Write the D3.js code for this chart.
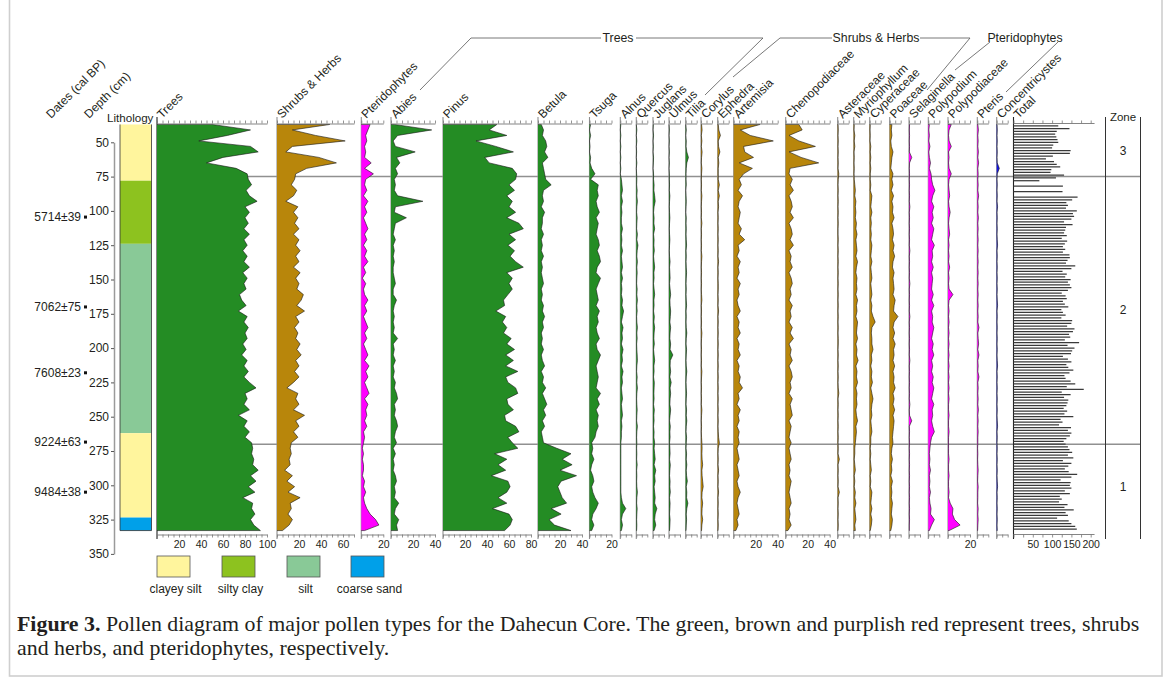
<!DOCTYPE html>
<html><head><meta charset="utf-8">
<script src="https://cdn.jsdelivr.net/npm/d3@7"></script>
<style>
body{margin:0;background:#fff}
svg{display:block}
text{font-family:"Liberation Sans",Arial,sans-serif;fill:#231f20}
</style>
</head><body>
<svg id="chart" width="1171" height="684"></svg>
<script>
// ---------- sample depths (cm) for the pollen percentage curves ----------
const depths = [
  37,41,45,49,53,57,61,65,69,73,
  77,81,85,89,93,97,101,105,109,113,
  117,121,125,129,133,137,141,145,149,153,
  157,161,165,169,173,177,181,185,189,193,
  197,201,205,209,213,217,221,225,229,233,
  237,241,245,249,253,257,261,265,269,273,
  277,281,285,289,293,297,301,305,309,313,
  317,321,325,329,333];

// ---------- pollen percentages ----------
const trees = [
  50,85,64,38,85,92,60,45,72,82,
  83,86,81,84,91,80,84,80,83,79,
  84,79,82,78,82,79,84,78,82,79,
  81,75,77,81,74,82,79,83,80,82,
  78,81,77,82,79,83,79,84,90,80,
  82,79,84,74,82,79,84,80,86,87,
  86,88,87,92,85,90,83,89,78,87,
  86,89,85,88,94];
const shrubsHerbs = [
  48,14,35,62,14,8,38,54,27,17,
  16,13,18,15,8,19,15,19,16,20,
  15,20,17,21,17,20,15,21,17,20,
  18,24,22,18,25,17,20,16,19,17,
  21,18,22,17,20,16,20,15,9,19,
  17,20,15,25,17,20,15,19,13,12,
  13,11,12,7,14,9,16,10,21,12,
  13,10,14,11,5];
const pteridophytes = [
  8,6,4,5,3,4,3,9,3,11,
  4,3,5,2,6,3,5,2,4,6,
  3,5,2,5,3,6,2,4,1,4,
  2,3,6,3,5,2,4,6,3,5,
  2,4,6,3,7,4,6,3,5,7,
  3,6,4,5,3,5,2,3,2,1,
  2,1,2,2,1,3,2,4,2,3,
  5,8,13,16,3];
const abies = [
  3,37,6,2,4,22,5,8,4,6,
  3,4,3,6,29,4,3,14,4,3,
  2,4,2,3,2,3,2,2,3,4,
  2,2,5,3,2,3,2,3,2,6,
  2,3,2,4,2,3,2,4,3,5,
  6,3,4,3,5,6,4,3,5,2,
  4,2,3,2,4,5,3,4,3,7,
  4,3,7,5,6];
const pinus = [
  49,42,58,30,48,64,38,42,63,67,
  66,60,65,58,63,60,66,58,69,73,
  60,66,59,65,61,66,73,58,63,60,
  63,59,55,56,48,57,54,58,55,62,
  58,65,57,64,57,68,57,59,66,68,
  58,59,64,56,57,66,69,59,63,68,
  47,58,50,57,44,59,61,58,50,58,
  45,60,63,61,56];
const betula = [
  3,5,4,7,8,6,9,4,5,6,
  7,12,5,4,5,3,6,4,4,3,
  5,3,4,3,5,3,4,3,4,5,
  3,4,3,5,4,6,4,5,3,4,
  3,5,3,4,6,3,5,4,7,4,
  6,8,5,7,4,6,3,4,5,17,
  30,22,31,20,35,21,18,20,22,26,
  12,21,10,15,30];
const tsuga = [
  1,0,1,0,0.5,0,1,0.5,2,5,
  1,8,7,8,6,7,9,6,8,7,
  6,8,9,7,9,10,7,6,10,8,
  6,7,8,6,9,7,8,6,7,9,
  6,7,10,8,6,7,8,7,6,10,
  7,9,6,8,7,8,6,5,2,3,
  2,4,2,1,3,4,2,3,5,8,
  6,3,2,4,2];
const alnus = [
  0.5,0,0.5,0,0.5,0,0.5,0,0.5,0,
  1,1.5,2,1,2,1,1.5,1,1,2,
  1,1.5,1,2,1,1.5,2,1,2,1,
  1.5,1,2,1.5,3,2,1,2.5,1.5,2,
  1,2.5,1.5,2,1,2.5,1.5,2,1,1.5,
  2,1,1.5,2,1,1.5,1,1,0.5,0.5,
  0.5,0.5,0.5,0.5,0.5,0.5,0.5,0.5,1,2,
  5,2,1,2,1];
const quercus = [
  0,0.5,0,0.5,0,0.3,0,0.5,0,0.3,
  0.5,0.3,0.8,0.5,1,0.5,0.3,0.8,0.5,0.3,
  1,0.5,1.5,0.8,0.5,1,0.5,0.8,0.5,0.3,
  0.8,0.5,1,0.5,0.8,0.3,0.5,1,0.5,0.8,
  0.3,0.5,0.8,1,0.5,0.3,0.8,0.5,1,0.5,
  0.3,0.5,0.8,0.5,0.3,1,0.5,0.3,0.5,0.3,
  0.5,0.3,0.8,0.3,0.5,0.3,0.5,1,0.5,0.3,
  0.8,0.5,0.3,0.5,0.3];
const juglans = [
  0.3,0,0.5,0,0.3,0,0.5,0.3,0,0.5,
  0.5,1,0.8,1.5,2,1,0.5,1,0.8,1.5,
  0.5,1,0.8,1.2,0.5,1,1.5,0.8,1,0.5,
  1,1.5,0.8,1,0.5,1.2,0.8,1.5,1,0.8,
  1.2,0.5,1,1.5,0.8,1,0.5,1.2,1,0.8,
  1,0.5,1.2,0.8,1,0.5,1,0.8,1.5,1,
  1.5,2,1,2.5,1.5,2,1,1.5,2,1.5,
  3.5,2,1.5,2.5,1];
const ulmus = [
  0,0.3,0,0.3,0,0.3,0,0.3,0,0.3,
  0.3,0.5,0.3,0.8,0.5,0.3,0.5,0.8,0.5,0.3,
  0.5,0.8,0.5,0.3,0.5,1,0.5,0.8,1,0.5,
  1,1.5,0.8,1,1.5,1.2,0.8,1.5,1,0.8,
  1.5,1,3.5,1.2,1,1.5,0.8,2,1,1.5,
  1,0.8,1.5,1,0.5,1.2,0.8,1,0.5,0.8,
  1,0.5,1.2,0.8,0.5,1,0.8,1.2,0.5,1,
  0.8,0.5,1,0.8,0.5];
const tilia = [
  0,0.5,0,0.5,0.3,1,2.5,1,0.5,0.3,
  0.3,0.5,0,0.3,0.5,0.3,0,0.5,0.3,0.5,
  0.3,0.5,0.8,0.3,0.5,0.3,0.5,0.8,0.5,0.3,
  0.5,0.3,0.5,0.8,0.3,0.5,0.3,0.5,1,0.5,
  0.3,0.8,0.5,0.3,0.5,1,0.5,0.3,0.5,0.8,
  0.5,0.3,0.8,0.5,1,0.5,0.3,0.8,0.5,0.3,
  0.8,0.5,1,0.5,0.8,1.5,0.5,1,0.8,2,
  1,0.5,0.8,0.5,0.3];
const corylus = [
  0.5,1,0.3,0.8,0.3,1,0.5,0.3,0.8,0.5,
  0.3,0.5,0.3,0.8,0.5,0.3,0.5,0.3,0.8,0.3,
  0.5,0.3,0.5,0.3,0.8,0.5,0.3,0.5,0.3,0.5,
  0.3,0.5,0.8,0.3,0.5,0.3,0.5,0.3,0.8,0.5,
  0.3,0.5,0.3,0.5,0.3,0.8,0.5,0.3,0.5,0.3,
  0.5,0.3,0.8,0.5,0.3,0.5,0.3,0.5,0.8,1,
  0.8,1,1.5,0.8,1,1.5,2,1,0.8,1.5,
  1,0.8,1.5,0.8,0.5];
const ephedra = [
  0.5,1,2.5,0.5,0.8,2,0.5,1,0.5,0.5,
  0.5,1.5,0.5,1.5,0.5,0.8,0.3,0.5,0.3,0.5,
  0.3,0.5,0.3,0.5,0.3,0.8,0.3,0.5,0.3,0.5,
  0.5,0.3,0.5,0.3,0.8,0.3,0.5,0.3,0.5,0.3,
  0.5,0.3,0.5,0.3,0.5,0.3,0.5,0.3,0.5,0.3,
  0.5,0.3,0.5,0.3,0.5,0.3,0.5,0.8,1.5,0.5,
  0.3,0.5,0.3,0.8,0.3,0.5,0.3,0.8,0.3,0.5,
  0.3,0.5,0.3,0.5,0.3];
const artemisia = [
  24,6,15,36,9,10,18,5,17,9,
  5,7,4,8,5,4,6,5,4,7,
  5,10,4,5,3,6,4,5,3,6,
  4,5,3,4,6,3,5,4,6,3,
  5,4,6,3,5,4,6,5,8,4,
  5,3,6,4,5,3,5,4,5,3,
  4,5,3,4,5,3,4,6,4,3,
  4,5,3,4,2];
const chenopodiaceae = [
  12,15,3,12,27,3,14,30,4,3,
  6,4,7,3,5,6,4,7,3,5,
  6,4,7,3,5,4,6,3,5,6,
  4,5,3,6,4,5,3,6,4,7,
  3,5,4,6,3,5,6,4,5,3,
  6,4,5,6,3,5,4,3,5,3,
  4,5,3,4,3,5,4,3,4,5,
  3,4,3,5,2];
const asteraceae = [
  0.3,0.5,0.3,0.5,0.3,0.5,0.3,0.5,0.3,1,
  0.5,0.3,0.5,0.3,0.5,0.3,0.5,0.3,0.5,0.3,
  0.3,0.5,0.3,0.5,0.3,0.5,0.3,0.5,0.3,0.5,
  0.3,0.5,0.3,0.5,0.3,0.5,0.3,0.5,0.3,0.5,
  0.5,0.3,0.5,0.3,0.5,0.3,0.5,0.3,0.5,1,
  0.3,0.5,0.3,0.5,0.3,0.5,0.3,0.5,0.3,0.5,
  0.3,1.5,0.3,0.5,0.3,0.5,0.3,1.5,0.3,0.5,
  0.3,0.5,0.3,0.5,0.3];
const myriophyllum = [
  0.5,0.3,1,0.5,1,0.3,0.5,0.3,0.5,0.3,
  0.5,1,1.5,1,2,1.5,2,1.5,2.5,2,
  3,2,2.5,3,2,3.5,2.5,2,3,2.5,
  3,2,3.5,2.5,3,2,3.5,3,2.5,3.5,
  2,3,2.5,4,2,3,2.5,3.5,2,3,
  2.5,3,2,2.5,3.5,2,2.5,2,1.5,1,
  1,0.5,1,1.5,0.5,1,0.5,1.5,1,2,
  1,1.5,2,1,1.5];
const cyperaceae = [
  0.5,0.3,0.5,0.3,1,0.5,1,0.5,1,0.5,
  0.5,1,0.5,2,1.5,1,2,1,1.5,1,
  1.5,1,2,1.5,1,2,1,1.5,2,1,
  1.5,2,1,2,1.5,3,5,2,1.5,2,
  2,3,1.5,2,1,2,1.5,2.5,1,2,
  3,2,1.5,2,1,1.5,2,1,1,0.5,
  1,0.5,1,1.5,0.5,1,0.5,2,1.5,1,
  2,1,2,1.5,0.5];
const poaceae = [
  2,1.5,2,1,1.5,3,2,1.5,1,3,
  2,3,1.5,3.5,2,3,2.5,4,2,3,
  3.5,2.5,4,3,4.5,3,2.5,4,3,3.5,
  4,3,5,4,3.5,7.5,4,3,4.5,3,
  5,3.5,4,3,4.5,3,4,3.5,5,3,
  4,3,4.5,3,4,3.5,3,2.5,3,2,
  1.5,2.5,1.5,2,1,2.5,1.5,2,1.5,2.5,
  2,1.5,2.5,2,1];
const selaginella = [
  0.5,0.3,0.5,0.3,0.5,0.3,2.5,0.5,0.3,0.5,
  0.3,0.5,0.3,0.5,0.3,0.8,0.3,0.5,0.3,0.5,
  0.3,0.5,0.3,0.8,0.3,0.5,0.3,0.5,0.3,0.8,
  0.3,0.5,0.3,0.5,0.3,0.8,0.3,0.5,0.3,0.5,
  0.3,0.5,0.3,0.8,0.3,0.5,0.3,0.5,0.3,0.5,
  0.3,0.8,0.3,0.5,2.5,0.3,0.5,0.3,0.5,0.3,
  0.5,0.3,0.5,0.3,0.5,0.3,0.5,0.3,0.5,0.3,
  0.5,0.3,0.5,0.3,0.3];
const polypodium = [
  1,0.5,1,0.5,1.5,0.5,1,2,1,2.5,
  3,4,6,4,3,5,3.5,4.5,3,5,
  4,3,5.5,3.5,4,3,4.5,3,4,3.5,
  3,4.5,3,5,3,4,3.5,5,4,3,
  4.5,3.5,5,3,4,3,4.5,3.5,5,4,
  3,5,3.5,4,3,4,5.5,3,2,1.5,
  1,1.5,1,2,1,1.5,1,2,1,1.5,
  2.5,2,5.5,3,1];
const polypodiaceae = [
  3,1,0.5,1,3,0.5,1,0.5,1,3,
  1,0.5,1,1.5,0.5,1,2,1,0.5,1,
  1.5,0.5,1,0.5,1,0.5,1.5,0.5,1,0.5,
  1,4.5,1,0.5,1,0.5,1,0.5,1,0.5,
  1,0.5,1,0.5,1,0.5,1,0.5,1,0.5,
  1,0.5,0.5,1,0.5,0.5,1,0.5,0.5,0.5,
  0.5,1,0.5,0.5,1,0.5,0.5,1,0.5,2,
  4.5,4,6,11,1];
const pteris = [
  0.5,1,0.5,0.8,0.5,1,0.5,1.2,0.5,0.8,
  0.5,0.8,0.5,1.2,0.5,0.8,0.5,1,0.5,0.8,
  0.5,0.8,0.5,0.8,0.5,0.8,0.5,0.8,0.5,0.8,
  0.5,0.8,0.5,0.8,0.5,0.8,0.5,1.5,0.5,0.8,
  1.2,0.5,1.5,0.5,0.8,0.5,1.5,0.5,0.8,0.5,
  0.8,0.5,1,0.5,0.8,0.5,0.8,0.5,0.5,0.3,
  0.5,0.3,0.5,0.8,0.5,0.3,0.8,0.5,0.5,0.3,
  0.8,0.5,0.8,0.5,0.3];
const concentricystes = [
  0.3,0.5,0.3,0.5,0.3,0.5,0.3,0.5,2.4,0.5,
  0.3,0.5,0.3,0.5,0.3,0.8,0.3,0.5,0.3,0.5,
  0.3,0.5,0.8,0.3,0.5,0.3,0.5,0.3,0.5,0.3,
  0.5,0.3,0.5,0.8,0.3,0.5,0.3,0.5,0.3,0.5,
  0.3,0.5,0.3,0.5,0.8,0.3,0.5,0.3,0.5,0.3,
  0.5,0.3,0.5,0.3,0.5,0.8,0.3,0.5,0.3,0.5,
  0.3,0.5,0.3,0.5,0.3,0.5,0.8,0.3,0.5,0.3,
  0.5,0.3,0.5,0.3,0.5];

// ---------- total pollen counts (grains) ----------
const totalDepths = [
  38,40,42,44,46,48,50,52,54,56,58,60,62,64,66,68,70,72,74,76,
  78,82,86,
  90,92,94,96,98,100,102,104,106,108,
  110,112,114,116,118,120,122,124,126,128,
  130,132,134,136,138,140,142,144,146,148,
  150,152,154,156,158,160,162,164,166,168,
  170,172,174,176,178,180,182,184,186,188,
  190,192,194,196,198,200,202,204,206,208,
  210,212,214,216,218,220,222,224,226,228,
  230,232,234,236,238,240,242,244,246,248,
  250,252,254,256,258,260,262,264,266,268,
  270,272,274,276,278,280,282,284,286,288,
  290,292,294,296,298,300,302,304,306,308,
  310,312,314,316,318,320,322,324,326,328,
  330,332];
const totalCounts = [
  116,145,112,108,111,114,116,103,100,148,146,102,84,105,112,121,98,96,131,110,
  67,128,127,
  166,152,137,141,136,164,154,157,150,131,
  153,136,134,131,138,125,139,133,128,134,
  128,145,146,140,136,160,150,127,138,134,
  148,141,146,150,141,125,135,138,128,133,
  142,124,128,135,124,152,150,139,158,154,
  144,147,133,170,140,158,152,149,128,141,
  150,137,142,155,145,132,135,148,160,138,
  182,125,148,131,142,140,137,130,139,132,
  155,122,127,118,149,141,150,146,137,130,
  135,141,145,152,141,155,128,150,142,133,
  143,165,150,122,148,146,150,133,146,120,
  125,118,140,132,156,135,141,113,143,150,
  160,164];

// ---------- panel catalogue ----------
const taxa = ["Trees","Shrubs & Herbs","Pteridophytes","Abies","Pinus","Betula","Tsuga",
  "Alnus","Quercus","Juglans","Ulmus","Tilia","Corylus","Ephedra","Artemisia",
  "Chenopodiaceae","Asteraceae","Myriophyllum","Cyperaceae","Poaceae","Selaginella",
  "Polypodium","Polypodiaceae","Pteris","Concentricystes"];
const taxonGroup = ["tree","herb","fern","tree","tree","tree","tree",
  "tree","tree","tree","tree","tree","herb","herb","herb",
  "herb","herb","herb","herb","herb","fern",
  "fern","fern","fern","alga"];
const series = [trees,shrubsHerbs,pteridophytes,abies,pinus,betula,tsuga,
  alnus,quercus,juglans,ulmus,tilia,corylus,ephedra,artemisia,
  chenopodiaceae,asteraceae,myriophyllum,cyperaceae,poaceae,selaginella,
  polypodium,polypodiaceae,pteris,concentricystes];
const axisMax = [100,70,20,40,80,40,20,10,10,10,10,10,10,10,40,40,10,10,10,10,10,10,20,10,10];
const tickLabels = [[20,40,60,80,100],[20,40,60],[20],[20,40],[20,40,60,80],[20,40],[20],
  [],[],[],[],[],[],[],[20,40],[20,40],[],[],[],[],[],[],[20],[],[]];
const totalMax = 210;
const totalTickLabels = [50,100,150,200];

// dated levels
const dateLabels = ["5714±39","7062±75","7608±23","9224±63","9484±38"];
const dateDepths = [104.5,170,218,268.5,305];

// lithology
const lithoTop    = [37,78,124,262,323.5];
const lithoBottom = [78,124,262,323.5,333];
const lithoType   = ["clayey silt","silty clay","silt","clayey silt","coarse sand"];
const legendTypes = ["clayey silt","silty clay","silt","coarse sand"];

// pollen zones (boundaries in cm, listed top to bottom)
const zoneNames = ["3","2","1"];
const zoneBounds = [37,75,270,333];

const depthTicks = [50,75,100,125,150,175,200,225,250,275,300,325,350];

// ---------- styling / layout ----------
const groupColor = {tree:"#248c24", herb:"#b8860b", fern:"#ff00ff", alga:"#1515e0"};
const lithoColor = {"clayey silt":"#fff59d","silty clay":"#8dc21f","silt":"#89c997","coarse sand":"#00a0e9"};
const PX = 1.1;                       // pixels per percent
const panelLeft = [157,277,361.3,391,443,538,589.5,620.3,636.3,653,669,685.7,701,717.7,733.7,
  785.7,837.7,853.7,869.7,889.7,909,928.3,948,977.3,996.7];
const totalLeft = 1013.5, totalPx = 0.386;
const AX_TOP = 123.5, AX_BOT = 534.5, COL_TOP = 117, COL_BOT = 539;

const svg = d3.select("#chart");

// outer frame
svg.append("rect").attr("x",9.5).attr("y",-5).attr("width",1152.5).attr("height",681)
  .attr("fill","none").attr("stroke","#cfcfcf").attr("stroke-width",1.6);

const y = d3.scaleLinear().domain([50,350]).range([142.3,553.9]);

// zone boundary lines (behind the curves)
zoneBounds.slice(1,-1).forEach(b=>{
  svg.append("line").attr("x1",157).attr("x2",1141).attr("y1",y(b)).attr("y2",y(b))
    .attr("stroke","#909090").attr("stroke-width",1.5);
});

// depth axis
const depthAxis = svg.append("g").attr("transform","translate(114,0)")
  .call(d3.axisLeft(y).tickValues(depthTicks).tickSize(3).tickSizeOuter(0).tickPadding(2));
depthAxis.select(".domain").attr("stroke","#9a9a9a").attr("stroke-width",1.5);
depthAxis.selectAll(".tick line").attr("stroke","#555");
depthAxis.selectAll("text").attr("font-size","12px").attr("fill","#231f20")
  .style("font-family","'Liberation Sans',Arial,sans-serif");

// dates
dateLabels.forEach((t,i)=>{
  const yy = y(dateDepths[i]);
  svg.append("text").attr("x",81).attr("y",yy+4).attr("text-anchor","end").attr("font-size","12px").text(t);
  svg.append("rect").attr("x",84).attr("y",yy-1.5).attr("width",3).attr("height",3).attr("fill","#111");
});

// lithology column
lithoType.forEach((t,i)=>{
  svg.append("rect").attr("x",120).attr("width",31.5)
    .attr("y",y(lithoTop[i])).attr("height",y(lithoBottom[i])-y(lithoTop[i]))
    .attr("fill",lithoColor[t]);
});
svg.append("path")
  .attr("d",`M120,${y(lithoTop[0])}V${y(333)}H151.5V${y(lithoTop[0])}`)
  .attr("fill","none").attr("stroke","#333").attr("stroke-width",0.8);

// legend
legendTypes.forEach((t,i)=>{
  const lx = [157,222,287,351][i];
  svg.append("rect").attr("x",lx).attr("y",556).attr("width",33).attr("height",21)
    .attr("fill",lithoColor[t]).attr("stroke","#555").attr("stroke-width",0.8);
  svg.append("text").attr("x",lx+16.5+2).attr("y",593).attr("text-anchor","middle")
    .attr("font-size","12px").attr("fill","#333").text(t);
});

// header labels on the left
function slanted(x,yy,t){
  svg.append("text").attr("transform",`translate(${x},${yy}) rotate(-45)`)
    .attr("font-size","12px").text(t);
}
slanted(51,119,"Dates (cal BP)");
slanted(89,119,"Depth (cm)");
svg.append("text").attr("x",107).attr("y",122).attr("font-size","11.6px").text("Lithology");

// pollen panels
taxa.forEach((name,i)=>{
  const x0 = panelLeft[i];
  const m = axisMax[i];
  const x = d3.scaleLinear().domain([0,m]).range([x0, x0+m*PX]);
  const col = groupColor[taxonGroup[i]];
  const pts = depths.map((d,j)=>({d, v:series[i][j]}));
  const g = svg.append("g");

  g.append("line").attr("x1",x0).attr("x2",x0).attr("y1",COL_TOP).attr("y2",COL_BOT)
    .attr("stroke", i===0 ? "#222" : "#8f8f8f").attr("stroke-width",1.1);

  g.append("path").datum(pts)
    .attr("d", d3.area().x0(x0).x1(p=>x(p.v)).y(p=>y(p.d)))
    .attr("fill", col);

  const outline = [{d:depths[0],v:0}, ...pts, {d:depths[depths.length-1],v:0}];
  g.append("path").datum(outline)
    .attr("d", d3.line().x(p=>x(p.v)).y(p=>y(p.d)))
    .attr("fill","none").attr("stroke","#151515").attr("stroke-width",0.6);

  const tv = d3.range(0, m+0.01, 5);
  const top = g.append("g").attr("transform",`translate(0,${AX_TOP})`)
    .call(d3.axisTop(x).tickValues(tv).tickSize(3).tickSizeOuter(0).tickFormat(""));
  const bot = g.append("g").attr("transform",`translate(0,${AX_BOT})`)
    .call(d3.axisBottom(x).tickValues(tv).tickSize(3).tickSizeOuter(0).tickPadding(3)
      .tickFormat(v => tickLabels[i].includes(v) ? v : ""));
  [top,bot].forEach(a=>{
    a.select(".domain").attr("stroke","#777").attr("stroke-width",0.9);
    a.selectAll(".tick line").attr("stroke","#777").attr("stroke-width",0.8);
    a.selectAll("text").attr("font-size","10.5px").attr("fill","#231f20")
      .style("font-family","'Liberation Sans',Arial,sans-serif");
  });

  slanted(x0+5, 119, name);
});

// total pollen count bars
{
  const x = d3.scaleLinear().domain([0,totalMax]).range([totalLeft, totalLeft+totalMax*totalPx]);
  const g = svg.append("g");
  g.append("line").attr("x1",totalLeft).attr("x2",totalLeft).attr("y1",COL_TOP).attr("y2",COL_BOT)
    .attr("stroke","#222").attr("stroke-width",1.1);
  g.selectAll("line.bar").data(totalDepths).join("line").attr("class","bar")
    .attr("x1",totalLeft).attr("x2",(d,j)=>x(totalCounts[j]))
    .attr("y1",d=>y(d)).attr("y2",d=>y(d))
    .attr("stroke","#3a3a3a").attr("stroke-width",1.25);
  const tv = d3.range(0, 201, 25);
  const top = g.append("g").attr("transform",`translate(0,${AX_TOP})`)
    .call(d3.axisTop(x).tickValues(tv).tickSize(3).tickSizeOuter(0).tickFormat(""));
  const bot = g.append("g").attr("transform",`translate(0,${AX_BOT})`)
    .call(d3.axisBottom(x).tickValues(tv).tickSize(3).tickSizeOuter(0).tickPadding(3)
      .tickFormat(v => totalTickLabels.includes(v) ? v : ""));
  [top,bot].forEach(a=>{
    a.select(".domain").attr("d",`M${totalLeft},0H${x(totalMax)}`).attr("stroke","#777").attr("stroke-width",0.9);
    a.selectAll(".tick line").attr("stroke","#777").attr("stroke-width",0.8);
    a.selectAll("text").attr("font-size","10.5px").attr("fill","#231f20")
      .style("font-family","'Liberation Sans',Arial,sans-serif");
  });
  slanted(totalLeft+5, 119, "Total");
}

// zone column
[1105.5,1140.5].forEach(xx=>{
  svg.append("line").attr("x1",xx).attr("x2",xx).attr("y1",COL_TOP).attr("y2",COL_BOT)
    .attr("stroke","#333").attr("stroke-width",1);
});
svg.append("text").attr("x",1123).attr("y",121).attr("text-anchor","middle").attr("font-size","11.5px").text("Zone");
zoneNames.forEach((z,i)=>{
  const mid = (zoneBounds[i]+zoneBounds[i+1])/2;
  svg.append("text").attr("x",1123).attr("y",y(mid)+4).attr("text-anchor","middle")
    .attr("font-size","12px").text(z);
});

// group headers
function header(label, cx, lines){
  svg.append("text").attr("x",cx).attr("y",42).attr("text-anchor","middle").attr("font-size","12.3px").text(label);
  lines.forEach(p=>{
    svg.append("path").attr("d", d3.line()(p)).attr("fill","none").attr("stroke","#555").attr("stroke-width",0.8);
  });
}
header("Trees", 618, [[[420,90],[471,38],[601,38]], [[636,38],[763,38],[705,95]]]);
header("Shrubs & Herbs", 876, [[[733,77],[780,38],[832,38]], [[920,38],[970,38],[927,90]]]);
header("Pteridophytes", 1025, [[[990,42],[955,70]], [[1058,42],[1006,92]]]);

// caption
function captionLine(parts){
  const t = svg.append("text").attr("x",0).attr("y",0)
    .style("font-family","'Liberation Serif','Times New Roman',serif").attr("font-size","21px");
  parts.forEach(([s,b])=>t.append("tspan").attr("font-weight",b?"bold":"normal").text(s));
  return t;
}
const c1 = captionLine([["Figure 3.",true],[" Pollen diagram of major pollen types for the Dahecun Core. The green, brown and purplish red represent trees, shrubs",false]]);
const c2 = captionLine([["and herbs, and pteridophytes, respectively.",false]]);
const k = 1123 / c1.node().getComputedTextLength();
c1.attr("transform",`translate(17,631) scale(${k},1)`);
c2.attr("transform",`translate(17,655) scale(${k},1)`);
</script>
</body></html>
